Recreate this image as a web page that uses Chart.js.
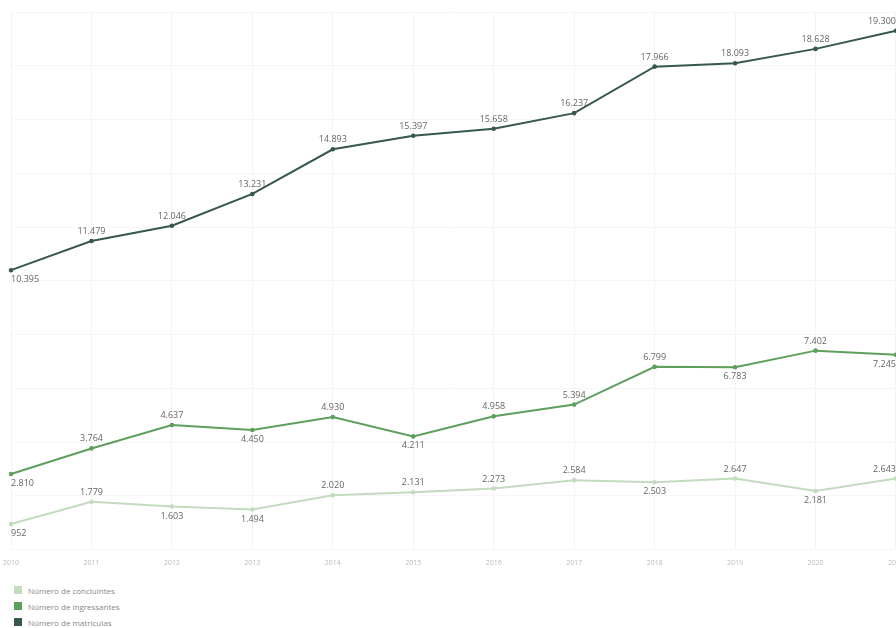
<!DOCTYPE html>
<html>
<head>
<meta charset="utf-8">
<script src="https://cdn.jsdelivr.net/npm/chart.js@4"></script>
<style>
  body { margin: 0; background: #fff; overflow: hidden; font-family: "Open Sans", sans-serif; }
  #wrap { position: relative; width: 919px; height: 576px; margin-left: -6px; }
  #legend { position: absolute; left: 14px; top: 582px; }
  .item { display: flex; align-items: center; height: 16px; font-size: 8px; color: #888; }
  .box { width: 8px; height: 8px; margin-right: 6px; }
</style>
</head>
<body>
<div id="wrap"><canvas id="myChart"></canvas></div>
<div id="legend"></div>
<script>
const years = ['2010', '2011', '2012', '2013', '2014', '2015', '2016', '2017', '2018', '2019', '2020', '2021'];

const concluintes = [952, 1779, 1603, 1494, 2020, 2131, 2273, 2584, 2503, 2647, 2181, 2643];
const ingressantes = [2810, 3764, 4637, 4450, 4930, 4211, 4958, 5394, 6799, 6783, 7402, 7245];
const matriculas = [10395, 11479, 12046, 13231, 14893, 15397, 15658, 16237, 17966, 18093, 18628, 19300];

const seriesLabels = ['Número de concluintes', 'Número de ingressantes', 'Número de matrículas'];
const seriesColors = ['#c3dbbf', '#5e9f5c', '#36594a'];

// pt-BR style thousands: 10.395
function fmt(v) {
  return v.toString().replace(/\B(?=(\d{3})+(?!\d))/g, '.');
}

// draws the value next to every point; goes below when the value dropped
const valueLabels = {
  id: 'valueLabels',
  afterDatasetsDraw(chart) {
    const ctx = chart.ctx;
    ctx.save();
    ctx.font = '9px "Open Sans", sans-serif';
    ctx.fillStyle = '#666';
    chart.data.datasets.forEach((ds, di) => {
      const meta = chart.getDatasetMeta(di);
      const vals = ds.data;
      meta.data.forEach((pt, i) => {
        let below;
        if (i === 0) below = vals[0] < vals[1];
        else below = vals[i] < vals[i - 1];
        if (i === 0) ctx.textAlign = 'left';
        else if (i === vals.length - 1) ctx.textAlign = 'right';
        else ctx.textAlign = 'center';
        ctx.textBaseline = below ? 'top' : 'bottom';
        ctx.fillText(fmt(vals[i]), pt.x, below ? pt.y + 5 : pt.y - 5);
      });
    });
    ctx.restore();
  }
};

const data = {
  labels: years,
  datasets: [concluintes, ingressantes, matriculas].map((values, i) => ({
    label: seriesLabels[i],
    data: values,
    borderColor: seriesColors[i],
    backgroundColor: seriesColors[i],
    borderWidth: 2,
    pointRadius: 1.3,
    pointHoverRadius: 3,
    tension: 0
  }))
};

const config = {
  type: 'line',
  data: data,
  options: {
    responsive: true,
    maintainAspectRatio: false,
    animation: false,
    layout: { padding: { left: 5, right: 2, top: 12, bottom: 0 } },
    plugins: {
      legend: { display: false },
      tooltip: { enabled: false }
    },
    scales: {
      x: {
        offset: false,
        grid: { color: '#f4f4f4', drawTicks: false },
        border: { display: false },
        ticks: {
          color: '#bbb',
          font: { size: 7, family: '"Open Sans", sans-serif' },
          padding: 9,
          maxRotation: 0,
          autoSkip: false
        }
      },
      y: {
        display: true,
        min: 0,
        max: 20000,
        grid: { color: '#f6f6f6', drawTicks: false },
        border: { display: false },
        ticks: { display: false, stepSize: 2000 }
      }
    }
  },
  plugins: [valueLabels]
};

const myChart = new Chart(document.getElementById('myChart'), config);

// legend as a vertical list under the chart
const legendEl = document.getElementById('legend');
myChart.data.datasets.forEach((ds) => {
  const row = document.createElement('div');
  row.className = 'item';
  const box = document.createElement('span');
  box.className = 'box';
  box.style.background = ds.borderColor;
  row.appendChild(box);
  row.appendChild(document.createTextNode(ds.label));
  legendEl.appendChild(row);
});
</script>
</body>
</html>
